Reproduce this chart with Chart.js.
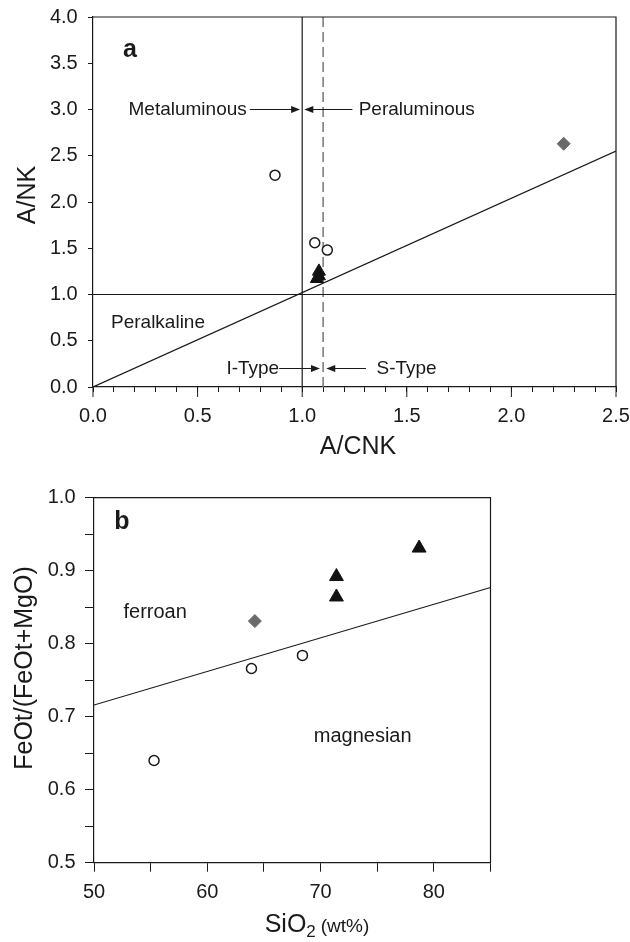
<!DOCTYPE html>
<html>
<head>
<meta charset="utf-8">
<script src="https://cdn.jsdelivr.net/npm/chart.js@4.4.1/dist/chart.umd.min.js"></script>
<style>
  html, body { margin: 0; padding: 0; background: #fff; }
  #wrap { position: relative; width: 630px; height: 942px; }
  #boxA { position: absolute; left: 0; top: 0; width: 630px; height: 460px; }
  #boxB { position: absolute; left: 0; top: 460px; width: 630px; height: 482px; }
</style>
</head>
<body>
<div id="wrap">
  <div id="boxA"><canvas id="chartA" width="630" height="460"></canvas></div>
  <div id="boxB"><canvas id="chartB" width="630" height="482"></canvas></div>
</div>
<script>
// panel a: A/CNK (x) vs A/NK (y)
const A_CIRCLE_X = [0.87, 1.06, 1.12];
const A_CIRCLE_Y = [2.29, 1.56, 1.48];
const A_TRI_X = [1.07, 1.08, 1.08];
const A_TRI_Y = [1.17, 1.2, 1.25];
const A_DIAMOND_X = [2.25];
const A_DIAMOND_Y = [2.63];
const A_DIAG_X = [0, 2.5];
const A_DIAG_Y = [0, 2.55];
const A_X_LABELS = [0, 0.5, 1, 1.5, 2, 2.5];

// panel b: SiO2 (x) vs FeOt/(FeOt+MgO) (y)
const B_CIRCLE_X = [55.3, 63.9, 68.4];
const B_CIRCLE_Y = [0.64, 0.766, 0.784];
const B_TRI_X = [71.4, 71.4, 78.7];
const B_TRI_Y = [0.892, 0.864, 0.931];
const B_DIAMOND_X = [64.2];
const B_DIAMOND_Y = [0.831];
const B_LINE_X = [50, 85];
const B_LINE_Y = [0.716, 0.877];
const B_X_LABELS = [50, 60, 70, 80];

const INK = "#1a1a1a";
const FONT = "'Liberation Sans', Arial, Helvetica, sans-serif";

const pts = (xs, ys) => xs.map((x, i) => ({ x, y: ys[i] }));
const near = (v, list) => list.some((t) => Math.abs(t - v) < 1e-6);

function markerSets(cx, cy, tx, ty, dx, dy, triR) {
  return [
    { data: pts(cx, cy), pointStyle: "circle", pointRadius: 5, borderWidth: 1.5,
      borderColor: INK, backgroundColor: "#fff", order: 0 },
    { data: pts(tx, ty), pointStyle: "triangle", pointRadius: triR, borderWidth: 1,
      borderColor: "#111", backgroundColor: "#111", order: 0 },
    { data: pts(dx, dy), pointStyle: "rectRot", pointRadius: 6.5, borderWidth: 1,
      borderColor: "#6a6a6a", backgroundColor: "#6a6a6a", order: 0 }
  ];
}

function lineSet(data, extra) {
  return Object.assign({
    type: "line", data, showLine: true, pointRadius: 0, borderColor: INK,
    borderWidth: 1.2, fill: false, order: 1
  }, extra || {});
}

function arrow(ctx, x1, y, x2) {
  const dir = Math.sign(x2 - x1);
  ctx.beginPath();
  ctx.moveTo(x1, y);
  ctx.lineTo(x2 - dir * 6, y);
  ctx.stroke();
  ctx.beginPath();
  ctx.moveTo(x2, y);
  ctx.lineTo(x2 - dir * 9, y - 3.5);
  ctx.lineTo(x2 - dir * 9, y + 3.5);
  ctx.closePath();
  ctx.fill();
}

// frame + texts + arrows drawn on top of the chart area
const decor = {
  id: "decor",
  afterDraw(chart, args, opts) {
    const { ctx, chartArea: a, scales } = chart;
    const X = (v) => scales.x.getPixelForValue(v);
    const Y = (v) => scales.y.getPixelForValue(v);
    ctx.save();
    ctx.strokeStyle = INK;
    ctx.fillStyle = INK;
    ctx.lineWidth = 1.2;
    ctx.beginPath();
    ctx.moveTo(a.left, a.top);
    ctx.lineTo(a.right, a.top);
    ctx.lineTo(a.right, a.bottom);
    ctx.stroke();

    (opts.majorTicks || []).forEach((v) => {
      ctx.lineWidth = 1;
      ctx.beginPath();
      ctx.moveTo(X(v), a.bottom);
      ctx.lineTo(X(v), a.bottom + 10);
      ctx.stroke();
    });

    ctx.lineWidth = 1;
    (opts.arrows || []).forEach((ar) => arrow(ctx, X(ar.from), Y(ar.y), X(ar.to)));

    ctx.textBaseline = "middle";
    (opts.notes || []).forEach((n) => {
      ctx.font = (n.bold ? "bold " : "") + n.size + "px " + FONT;
      ctx.textAlign = n.align;
      ctx.fillText(n.text, X(n.x), Y(n.y));
    });

    // axis titles
    ctx.textAlign = "center";
    ctx.font = opts.titleSize + "px " + FONT;
    ctx.save();
    ctx.translate(opts.yTitle.x, opts.yTitle.y);
    ctx.rotate(-Math.PI / 2);
    ctx.fillText(opts.yTitle.text, 0, 0);
    ctx.restore();
    if (opts.xTitle.parts) {
      const parts = opts.xTitle.parts;
      let total = 0;
      parts.forEach((p) => {
        ctx.font = p.size + "px " + FONT;
        total += ctx.measureText(p.text).width + (p.gap || 0);
      });
      let x = opts.xTitle.x - total / 2;
      ctx.textAlign = "left";
      ctx.textBaseline = "alphabetic";
      parts.forEach((p) => {
        ctx.font = p.size + "px " + FONT;
        x += p.gap || 0;
        ctx.fillText(p.text, x, opts.xTitle.y + (p.dy || 0));
        x += ctx.measureText(p.text).width;
      });
    } else {
      ctx.fillText(opts.xTitle.text, opts.xTitle.x, opts.xTitle.y);
    }
    ctx.restore();
  }
};

function axis(min, max, step, size, tickLen, pad, labelFn) {
  return {
    type: "linear", min, max,
    afterFit(s) {
      // fixed box size, and no extra room for end labels
      if (s.isHorizontal()) s.height = size; else s.width = size;
      s.paddingLeft = 0; s.paddingRight = 0; s.paddingTop = 0; s.paddingBottom = 0;
    },
    ticks: {
      stepSize: step, autoSkip: false, maxRotation: 0, padding: pad,
      color: INK, font: { family: FONT, size: 20 },
      callback: labelFn
    },
    grid: { drawOnChartArea: false, drawTicks: true, tickLength: tickLen, color: INK, lineWidth: 1 },
    border: { display: true, color: INK, width: 1.2 }
  };
}

new Chart(document.getElementById("chartA"), {
  type: "scatter",
  data: {
    datasets: [
      ...markerSets(A_CIRCLE_X, A_CIRCLE_Y, A_TRI_X, A_TRI_Y, A_DIAMOND_X, A_DIAMOND_Y, 7.5),
      lineSet(pts(A_DIAG_X, A_DIAG_Y)),
      lineSet(pts([0, 2.5], [1, 1])),
      lineSet(pts([1, 1], [0, 4])),
      lineSet(pts([1.1, 1.1], [0, 4]), { borderColor: "#777", borderWidth: 1.5, borderDash: [10, 5] })
    ]
  },
  options: {
    responsive: false,
    animation: false,
    layout: { padding: { top: 17, right: 14, left: 0, bottom: 0 } },
    plugins: {
      legend: { display: false },
      tooltip: { enabled: false },
      decor: {
        majorTicks: A_X_LABELS,
        titleSize: 25,
        yTitle: { text: "A/NK", x: 28, y: 195 },
        xTitle: { text: "A/CNK", x: 358, y: 447 },
        arrows: [
          { from: 0.75, to: 0.99, y: 3.0 },
          { from: 1.24, to: 1.01, y: 3.0 },
          { from: 0.89, to: 1.085, y: 0.2 },
          { from: 1.305, to: 1.115, y: 0.2 }
        ],
        notes: [
          { text: "a", x: 0.177, y: 3.64, size: 25, bold: true, align: "center" },
          { text: "Metaluminous", x: 0.735, y: 3.0, size: 19, align: "right" },
          { text: "Peraluminous", x: 1.27, y: 3.0, size: 19, align: "left" },
          { text: "Peralkaline", x: 0.086, y: 0.69, size: 19, align: "left" },
          { text: "I-Type", x: 0.89, y: 0.2, size: 19, align: "right" },
          { text: "S-Type", x: 1.355, y: 0.2, size: 19, align: "left" }
        ]
      }
    },
    scales: {
      x: axis(0, 2.5, 0.1, 73, 5, 12.7,
        (v) => (near(v, A_X_LABELS) ? v.toFixed(1) : "")),
      y: axis(0, 4, 0.5, 93, 5, 10.3, (v) => v.toFixed(1))
    }
  },
  plugins: [decor]
});

new Chart(document.getElementById("chartB"), {
  type: "scatter",
  data: {
    datasets: [
      ...markerSets(B_CIRCLE_X, B_CIRCLE_Y, B_TRI_X, B_TRI_Y, B_DIAMOND_X, B_DIAMOND_Y, 8),
      lineSet(pts(B_LINE_X, B_LINE_Y))
    ]
  },
  options: {
    responsive: false,
    animation: false,
    layout: { padding: { top: 37.7, right: 139.5, left: 0, bottom: 0 } },
    plugins: {
      legend: { display: false },
      tooltip: { enabled: false },
      decor: {
        titleSize: 25,
        yTitle: { text: "FeOt/(FeOt+MgO)", x: 25, y: 208 },
        xTitle: {
          x: 317, y: 472,
          parts: [
            { text: "SiO", size: 25 },
            { text: "2", size: 17, dy: 5 },
            { text: "(wt%)", size: 19, gap: 5 }
          ]
        },
        notes: [
          { text: "b", x: 52.46, y: 0.967, size: 25, bold: true, align: "center" },
          { text: "ferroan", x: 52.6, y: 0.8425, size: 20, align: "left" },
          { text: "magnesian", x: 69.4, y: 0.6726, size: 20, align: "left" }
        ]
      }
    },
    scales: {
      x: axis(50, 85, 5, 79.3, 9, 9,
        (v) => (near(v, B_X_LABELS) ? String(v) : "")),
      y: axis(0.5, 1.0, 0.05, 94, 9, 9.5,
        (v) => (Math.abs(v * 10 - Math.round(v * 10)) < 1e-6 ? v.toFixed(1) : ""))
    }
  },
  plugins: [decor]
});
</script>
</body>
</html>
